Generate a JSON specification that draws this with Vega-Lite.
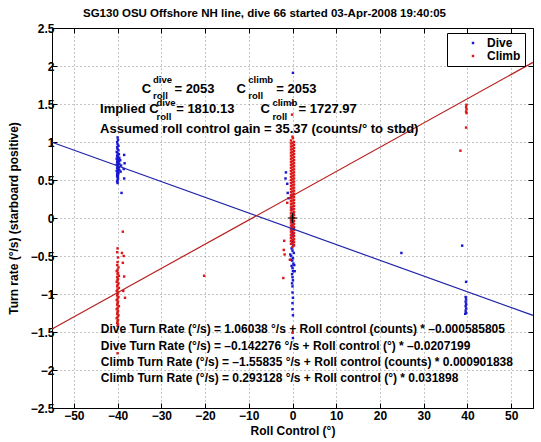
{
  "$schema": "https://vega.github.io/schema/vega-lite/v6.json",
  "autosize": {"type": "none"},
  "padding": {"left": 52, "top": 28, "right": 8, "bottom": 34},
  "width": 481,
  "height": 380,
  "background": "white",
  "title": {
    "text": "SG130 OSU Offshore NH line, dive 66 started 03-Apr-2008 19:40:05",
    "anchor": "middle", "frame": "group", "dx": -28, "offset": 3, "font": "Liberation Sans",
    "fontSize": 11.5, "fontWeight": "bold", "color": "black"
  },
  "datasets": {
    "pts": [
      {"s":"Dive","x":-40,"y":1.06},{"s":"Dive","x":-39.9,"y":1.03},{"s":"Dive","x":-40.1,"y":1.0},{"s":"Dive","x":-40,"y":0.97},{"s":"Dive","x":-39.8,"y":0.95},{"s":"Dive","x":-40.1,"y":0.93},{"s":"Dive","x":-40,"y":0.91},{"s":"Dive","x":-39.8,"y":0.89},{"s":"Dive","x":-40.2,"y":0.87},{"s":"Dive","x":-40,"y":0.85},{"s":"Dive","x":-39.7,"y":0.84},{"s":"Dive","x":-40.1,"y":0.82},{"s":"Dive","x":-39.9,"y":0.81},{"s":"Dive","x":-40,"y":0.8},{"s":"Dive","x":-39.6,"y":0.79},{"s":"Dive","x":-40.2,"y":0.78},{"s":"Dive","x":-39.9,"y":0.77},{"s":"Dive","x":-40,"y":0.76},{"s":"Dive","x":-39.7,"y":0.75},{"s":"Dive","x":-40.1,"y":0.74},{"s":"Dive","x":-39.8,"y":0.73},{"s":"Dive","x":-40,"y":0.72},{"s":"Dive","x":-39.6,"y":0.71},{"s":"Dive","x":-40.2,"y":0.7},{"s":"Dive","x":-39.9,"y":0.69},{"s":"Dive","x":-40,"y":0.68},{"s":"Dive","x":-39.7,"y":0.67},{"s":"Dive","x":-40.1,"y":0.66},{"s":"Dive","x":-39.8,"y":0.65},{"s":"Dive","x":-40,"y":0.64},{"s":"Dive","x":-39.6,"y":0.63},{"s":"Dive","x":-40.2,"y":0.62},{"s":"Dive","x":-39.9,"y":0.61},{"s":"Dive","x":-40,"y":0.6},{"s":"Dive","x":-39.8,"y":0.59},{"s":"Dive","x":-40.1,"y":0.58},{"s":"Dive","x":-40,"y":0.57},{"s":"Dive","x":-39.9,"y":0.56},{"s":"Dive","x":-40.1,"y":0.55},{"s":"Dive","x":-40,"y":0.54},{"s":"Dive","x":-39.9,"y":0.52},{"s":"Dive","x":-40,"y":0.5},{"s":"Dive","x":-40.1,"y":0.48},{"s":"Dive","x":-40,"y":0.46},
      {"s":"Dive","x":-39.1,"y":0.33},{"s":"Dive","x":-38.5,"y":0.83},{"s":"Dive","x":-38.4,"y":0.72},{"s":"Dive","x":-38.6,"y":0.645},{"s":"Dive","x":-38.5,"y":0.52},{"s":"Dive","x":-39.2,"y":0.69},{"s":"Dive","x":-39.3,"y":0.61},{"s":"Dive","x":-39.4,"y":0.76},
      {"s":"Dive","x":0.1,"y":1.91},{"s":"Dive","x":-1.5,"y":0.6},{"s":"Dive","x":-1.6,"y":0.52},{"s":"Dive","x":-1.1,"y":0.33},{"s":"Dive","x":-0.9,"y":0.26},{"s":"Dive","x":-1.2,"y":0.45},{"s":"Dive","x":-0.2,"y":0.12},{"s":"Dive","x":0.2,"y":0.06},{"s":"Dive","x":0,"y":0.02},{"s":"Dive","x":-0.3,"y":-0.03},{"s":"Dive","x":0.1,"y":-0.06},{"s":"Dive","x":-0.1,"y":-0.1},{"s":"Dive","x":0.3,"y":-0.13},{"s":"Dive","x":-0.2,"y":-0.16},{"s":"Dive","x":0,"y":-0.2},{"s":"Dive","x":0.2,"y":-0.23},{"s":"Dive","x":-0.3,"y":-0.26},{"s":"Dive","x":0.1,"y":-0.3},{"s":"Dive","x":-0.1,"y":-0.33},{"s":"Dive","x":0.2,"y":-0.36},{"s":"Dive","x":-0.2,"y":-0.4},{"s":"Dive","x":0,"y":-0.43},{"s":"Dive","x":0.3,"y":-0.46},{"s":"Dive","x":-0.3,"y":-0.5},{"s":"Dive","x":0.1,"y":-0.53},{"s":"Dive","x":-0.1,"y":-0.56},{"s":"Dive","x":0.2,"y":-0.6},{"s":"Dive","x":-0.2,"y":-0.63},{"s":"Dive","x":0,"y":-0.66},{"s":"Dive","x":0.1,"y":-0.7},{"s":"Dive","x":-0.1,"y":-0.74},{"s":"Dive","x":0,"y":-0.78},{"s":"Dive","x":0.1,"y":-0.82},{"s":"Dive","x":-0.1,"y":-0.86},{"s":"Dive","x":0,"y":-0.9},{"s":"Dive","x":0,"y":-0.98},{"s":"Dive","x":0.1,"y":-1.05},{"s":"Dive","x":0,"y":-1.12},{"s":"Dive","x":0,"y":-1.2},{"s":"Dive","x":0.1,"y":-1.28},{"s":"Dive","x":0.1,"y":-1.58},{"s":"Dive","x":-0.4,"y":-0.55},{"s":"Dive","x":0.4,"y":-0.62},{"s":"Dive","x":-0.5,"y":-0.48},{"s":"Dive","x":0.5,"y":-0.7},
      {"s":"Dive","x":38.8,"y":-0.364},{"s":"Dive","x":24.9,"y":-0.46},{"s":"Dive","x":39.7,"y":-0.84},{"s":"Dive","x":39.6,"y":-1.04},{"s":"Dive","x":39.7,"y":-1.07},{"s":"Dive","x":39.6,"y":-1.1},{"s":"Dive","x":39.7,"y":-1.13},{"s":"Dive","x":39.6,"y":-1.16},{"s":"Dive","x":39.7,"y":-1.19},{"s":"Dive","x":39.6,"y":-1.22},{"s":"Dive","x":39.7,"y":-1.25},{"s":"Dive","x":39.5,"y":-1.26},
      {"s":"Climb","x":-40,"y":-0.4},{"s":"Climb","x":-40.1,"y":-0.45},{"s":"Climb","x":-39.9,"y":-0.52},{"s":"Climb","x":-40,"y":-0.58},{"s":"Climb","x":-40.1,"y":-0.62},{"s":"Climb","x":-39.8,"y":-0.65},{"s":"Climb","x":-40,"y":-0.68},{"s":"Climb","x":-40.2,"y":-0.7},{"s":"Climb","x":-39.9,"y":-0.72},{"s":"Climb","x":-40,"y":-0.74},{"s":"Climb","x":-39.7,"y":-0.76},{"s":"Climb","x":-40.1,"y":-0.78},{"s":"Climb","x":-39.9,"y":-0.8},{"s":"Climb","x":-40,"y":-0.82},{"s":"Climb","x":-40.2,"y":-0.84},{"s":"Climb","x":-39.8,"y":-0.86},{"s":"Climb","x":-40,"y":-0.88},{"s":"Climb","x":-40.1,"y":-0.9},{"s":"Climb","x":-39.7,"y":-0.92},{"s":"Climb","x":-40,"y":-0.94},{"s":"Climb","x":-40.2,"y":-0.96},{"s":"Climb","x":-39.9,"y":-0.98},{"s":"Climb","x":-40,"y":-1.0},{"s":"Climb","x":-40.1,"y":-1.02},{"s":"Climb","x":-39.8,"y":-1.04},{"s":"Climb","x":-40,"y":-1.06},{"s":"Climb","x":-40.2,"y":-1.08},{"s":"Climb","x":-39.9,"y":-1.1},{"s":"Climb","x":-40,"y":-1.12},{"s":"Climb","x":-40.1,"y":-1.14},{"s":"Climb","x":-39.7,"y":-1.16},{"s":"Climb","x":-40,"y":-1.18},{"s":"Climb","x":-40.2,"y":-1.2},{"s":"Climb","x":-39.9,"y":-1.22},{"s":"Climb","x":-40,"y":-1.24},{"s":"Climb","x":-40.1,"y":-1.26},{"s":"Climb","x":-39.8,"y":-1.28},{"s":"Climb","x":-40,"y":-1.3},{"s":"Climb","x":-40.2,"y":-1.32},{"s":"Climb","x":-39.9,"y":-1.34},{"s":"Climb","x":-40,"y":-1.36},{"s":"Climb","x":-40.1,"y":-1.38},{"s":"Climb","x":-39.9,"y":-1.4},{"s":"Climb","x":-40,"y":-1.42},
      {"s":"Climb","x":-38.8,"y":-0.18},{"s":"Climb","x":-39,"y":-0.46},{"s":"Climb","x":-38.6,"y":-0.5},{"s":"Climb","x":-38.8,"y":-0.59},{"s":"Climb","x":-38.5,"y":-0.77},{"s":"Climb","x":-38.7,"y":-0.96},{"s":"Climb","x":-38.3,"y":-1.05},{"s":"Climb","x":-40,"y":-1.78},{"s":"Climb","x":-20.2,"y":-0.76},
      {"s":"Climb","x":0,"y":1.51},{"s":"Climb","x":-0.1,"y":1.36},{"s":"Climb","x":0,"y":1.07},{"s":"Climb","x":0.1,"y":1.05},
      {"s":"Climb","x":-0.35,"y":1.02},{"s":"Climb","x":0.35,"y":1.0},{"s":"Climb","x":0,"y":0.99},
      {"s":"Climb","x":-0.35,"y":0.98},{"s":"Climb","x":0.35,"y":0.96},{"s":"Climb","x":0,"y":0.95},
      {"s":"Climb","x":-0.35,"y":0.94},{"s":"Climb","x":0.35,"y":0.92},{"s":"Climb","x":0,"y":0.91},
      {"s":"Climb","x":-0.35,"y":0.9},{"s":"Climb","x":0.35,"y":0.88},{"s":"Climb","x":0,"y":0.87},
      {"s":"Climb","x":-0.35,"y":0.86},{"s":"Climb","x":0.35,"y":0.84},{"s":"Climb","x":0,"y":0.83},
      {"s":"Climb","x":-0.35,"y":0.82},{"s":"Climb","x":0.35,"y":0.8},{"s":"Climb","x":0,"y":0.79},
      {"s":"Climb","x":-0.35,"y":0.78},{"s":"Climb","x":0.35,"y":0.76},{"s":"Climb","x":0,"y":0.75},
      {"s":"Climb","x":-0.35,"y":0.74},{"s":"Climb","x":0.35,"y":0.72},{"s":"Climb","x":0,"y":0.71},
      {"s":"Climb","x":-0.35,"y":0.7},{"s":"Climb","x":0.35,"y":0.68},{"s":"Climb","x":0,"y":0.67},
      {"s":"Climb","x":-0.35,"y":0.66},{"s":"Climb","x":0.35,"y":0.64},{"s":"Climb","x":0,"y":0.63},
      {"s":"Climb","x":-0.35,"y":0.62},{"s":"Climb","x":0.35,"y":0.6},{"s":"Climb","x":0,"y":0.59},
      {"s":"Climb","x":-0.35,"y":0.58},{"s":"Climb","x":0.35,"y":0.56},{"s":"Climb","x":0,"y":0.55},
      {"s":"Climb","x":-0.35,"y":0.54},{"s":"Climb","x":0.35,"y":0.52},{"s":"Climb","x":0,"y":0.51},
      {"s":"Climb","x":-0.35,"y":0.5},{"s":"Climb","x":0.35,"y":0.48},{"s":"Climb","x":0,"y":0.47},
      {"s":"Climb","x":-0.35,"y":0.46},{"s":"Climb","x":0.35,"y":0.44},{"s":"Climb","x":0,"y":0.43},
      {"s":"Climb","x":-0.35,"y":0.42},{"s":"Climb","x":0.35,"y":0.4},{"s":"Climb","x":0,"y":0.39},
      {"s":"Climb","x":-0.35,"y":0.38},{"s":"Climb","x":0.35,"y":0.36},{"s":"Climb","x":0,"y":0.35},
      {"s":"Climb","x":-0.35,"y":0.34},{"s":"Climb","x":0.35,"y":0.32},{"s":"Climb","x":0,"y":0.31},
      {"s":"Climb","x":-0.35,"y":0.3},{"s":"Climb","x":0.35,"y":0.28},{"s":"Climb","x":0,"y":0.27},
      {"s":"Climb","x":-0.35,"y":0.26},{"s":"Climb","x":0.35,"y":0.24},{"s":"Climb","x":0,"y":0.23},
      {"s":"Climb","x":-0.35,"y":0.22},{"s":"Climb","x":0.35,"y":0.2},{"s":"Climb","x":0,"y":0.19},
      {"s":"Climb","x":-0.35,"y":0.18},{"s":"Climb","x":0.35,"y":0.16},{"s":"Climb","x":0,"y":0.15},
      {"s":"Climb","x":-0.35,"y":0.14},{"s":"Climb","x":0.35,"y":0.12},{"s":"Climb","x":0,"y":0.11},
      {"s":"Climb","x":-0.35,"y":0.1},{"s":"Climb","x":0.35,"y":0.08},{"s":"Climb","x":0,"y":0.07},
      {"s":"Climb","x":-0.35,"y":0.06},{"s":"Climb","x":0.35,"y":0.04},{"s":"Climb","x":0,"y":0.03},
      {"s":"Climb","x":-0.35,"y":0.02},{"s":"Climb","x":0.35,"y":0.0},{"s":"Climb","x":0,"y":-0.01},
      {"s":"Climb","x":-0.35,"y":-0.02},{"s":"Climb","x":0.35,"y":-0.04},{"s":"Climb","x":0,"y":-0.05},
      {"s":"Climb","x":-0.35,"y":-0.06},{"s":"Climb","x":0.35,"y":-0.08},{"s":"Climb","x":0,"y":-0.09},
      {"s":"Climb","x":-0.35,"y":-0.1},{"s":"Climb","x":0.35,"y":-0.12},{"s":"Climb","x":0,"y":-0.13},
      {"s":"Climb","x":-0.35,"y":-0.14},{"s":"Climb","x":0.35,"y":-0.16},{"s":"Climb","x":0,"y":-0.17},
      {"s":"Climb","x":-0.35,"y":-0.18},{"s":"Climb","x":0.35,"y":-0.2},{"s":"Climb","x":0,"y":-0.21},
      {"s":"Climb","x":-0.35,"y":-0.22},{"s":"Climb","x":0.35,"y":-0.24},{"s":"Climb","x":0,"y":-0.25},
      {"s":"Climb","x":-0.35,"y":-0.26},{"s":"Climb","x":0.35,"y":-0.28},{"s":"Climb","x":0,"y":-0.29},
      {"s":"Climb","x":-0.35,"y":-0.3},{"s":"Climb","x":0.35,"y":-0.32},{"s":"Climb","x":0,"y":-0.33},
      {"s":"Climb","x":-0.35,"y":-0.34},{"s":"Climb","x":0.35,"y":-0.36},{"s":"Climb","x":0,"y":-0.38},
      {"s":"Climb","x":-2,"y":-0.42},{"s":"Climb","x":-1.8,"y":-0.48},{"s":"Climb","x":-2.1,"y":-0.79},{"s":"Climb","x":-1.9,"y":-0.3},{"s":"Climb","x":0,"y":-1.51},{"s":"Climb","x":-0.6,"y":-0.55},{"s":"Climb","x":-1.2,"y":0.2},
      {"s":"Climb","x":39.8,"y":1.49},{"s":"Climb","x":39.7,"y":1.46},{"s":"Climb","x":39.8,"y":1.43},{"s":"Climb","x":39.7,"y":1.4},{"s":"Climb","x":39.8,"y":1.38},{"s":"Climb","x":39.7,"y":1.19},{"s":"Climb","x":38.4,"y":0.886}
    ],
    "fits": [
      {"s":"Dive","x":-55,"y":0.99732},{"s":"Dive","x":55,"y":-1.28187},
      {"s":"Climb","x":-55,"y":-1.46126},{"s":"Climb","x":55,"y":2.04752}
    ],
    "one": [{}]
  },
  "config": {
    "font": "Liberation Sans",
    "view": {"stroke": null},
    "axis": {
      "domainColor": "black", "domainWidth": 1, "tickColor": "black", "tickSize": -5,
      "labelFont": "Liberation Sans", "labelFontSize": 12, "labelFontWeight": "bold", "labelColor": "black",
      "titleFont": "Liberation Sans", "titleFontSize": 12, "titleFontWeight": "bold", "titleColor": "black",
      "gridColor": "#8a8a8a", "gridDash": [1, 3], "gridWidth": 1, "gridOpacity": 1
    },
    "text": {"font": "Liberation Sans", "fontWeight": "bold", "align": "left", "baseline": "middle", "color": "black"}
  },
  "layer": [
    {
      "data": {"name": "pts"},
      "mark": {"type": "point", "shape": "square", "filled": true, "size": 6, "opacity": 1},
      "encoding": {
        "x": {"field": "x", "type": "quantitative",
          "scale": {"domain": [-55, 55], "nice": false, "zero": false},
          "axis": {"orient": "bottom", "values": [-50,-40,-30,-20,-10,0,10,20,30,40,50], "grid": true,
            "title": "Roll Control (°)", "labelPadding": 7, "titlePadding": 4}},
        "y": {"field": "y", "type": "quantitative",
          "scale": {"domain": [-2.5, 2.5], "nice": false, "zero": false},
          "axis": {"orient": "left", "values": [-2.5,-2,-1.5,-1,-0.5,0,0.5,1,1.5,2,2.5], "format": ".1~f", "grid": true,
            "title": "Turn rate (°/s) (starboard positive)", "labelPadding": 3, "titlePadding": 10}},
        "color": {"field": "s", "type": "nominal",
          "scale": {"domain": ["Dive", "Climb"], "range": ["#1818d0", "#dc1818"]},
          "legend": {"orient": "none", "legendX": 395, "legendY": 5, "title": null,
            "strokeColor": "black", "fillColor": "white", "padding": 4,
            "symbolType": "square", "symbolSize": 6, "symbolOffset": 16, "labelOffset": 8,
            "labelFont": "Liberation Sans", "labelFontSize": 12, "labelFontWeight": "bold", "labelColor": "black",
            "rowPadding": 1}}
      }
    },
    {
      "data": {"name": "fits"},
      "transform": [{"filter": "datum.s === 'Dive'"}],
      "mark": {"type": "line", "color": "#2026a8", "strokeWidth": 1.2},
      "encoding": {
        "x": {"field": "x", "type": "quantitative", "axis": null},
        "y": {"field": "y", "type": "quantitative", "axis": null}
      }
    },
    {
      "data": {"name": "fits"},
      "transform": [{"filter": "datum.s === 'Climb'"}],
      "mark": {"type": "line", "color": "#b82020", "strokeWidth": 1.2},
      "encoding": {
        "x": {"field": "x", "type": "quantitative", "axis": null},
        "y": {"field": "y", "type": "quantitative", "axis": null}
      }
    },
    {
      "data": {"name": "one"},
      "mark": {"type": "point", "shape": "M-1,0L1,0M0,-1L0,1", "filled": false, "size": 90, "stroke": "black", "strokeWidth": 1.2, "opacity": 1},
      "encoding": {
        "x": {"datum": 0, "type": "quantitative",
          "axis": {"orient": "top", "values": [-50,-40,-30,-20,-10,0,10,20,30,40,50], "labels": false, "grid": false, "title": null}},
        "y": {"datum": 0, "type": "quantitative",
          "axis": {"orient": "right", "values": [-2.5,-2,-1.5,-1,-0.5,0,0.5,1,1.5,2,2.5], "labels": false, "grid": false, "title": null}}
      }
    },
    {"data": {"name": "one"}, "mark": {"type": "text", "text": "C", "fontSize": 13},
      "encoding": {"x": {"datum": -34.5, "type": "quantitative", "axis": null}, "y": {"datum": 1.70, "type": "quantitative", "axis": null}}},
    {"data": {"name": "one"}, "mark": {"type": "text", "text": "dive", "fontSize": 9.5},
      "encoding": {"x": {"datum": -31.9, "type": "quantitative", "axis": null}, "y": {"datum": 1.815, "type": "quantitative", "axis": null}}},
    {"data": {"name": "one"}, "mark": {"type": "text", "text": "roll", "fontSize": 9.5},
      "encoding": {"x": {"datum": -31.9, "type": "quantitative", "axis": null}, "y": {"datum": 1.60, "type": "quantitative", "axis": null}}},
    {"data": {"name": "one"}, "mark": {"type": "text", "text": "= 2053", "fontSize": 13},
      "encoding": {"x": {"datum": -27.0, "type": "quantitative", "axis": null}, "y": {"datum": 1.70, "type": "quantitative", "axis": null}}},
    {"data": {"name": "one"}, "mark": {"type": "text", "text": "C", "fontSize": 13},
      "encoding": {"x": {"datum": -12.8, "type": "quantitative", "axis": null}, "y": {"datum": 1.70, "type": "quantitative", "axis": null}}},
    {"data": {"name": "one"}, "mark": {"type": "text", "text": "climb", "fontSize": 9.5},
      "encoding": {"x": {"datum": -10.1, "type": "quantitative", "axis": null}, "y": {"datum": 1.815, "type": "quantitative", "axis": null}}},
    {"data": {"name": "one"}, "mark": {"type": "text", "text": "roll", "fontSize": 9.5},
      "encoding": {"x": {"datum": -10.1, "type": "quantitative", "axis": null}, "y": {"datum": 1.60, "type": "quantitative", "axis": null}}},
    {"data": {"name": "one"}, "mark": {"type": "text", "text": "= 2053", "fontSize": 13},
      "encoding": {"x": {"datum": -3.7, "type": "quantitative", "axis": null}, "y": {"datum": 1.70, "type": "quantitative", "axis": null}}},
    {"data": {"name": "one"}, "mark": {"type": "text", "text": "Implied C", "fontSize": 13},
      "encoding": {"x": {"datum": -44.0, "type": "quantitative", "axis": null}, "y": {"datum": 1.43, "type": "quantitative", "axis": null}}},
    {"data": {"name": "one"}, "mark": {"type": "text", "text": "dive", "fontSize": 9.5},
      "encoding": {"x": {"datum": -31.1, "type": "quantitative", "axis": null}, "y": {"datum": 1.51, "type": "quantitative", "axis": null}}},
    {"data": {"name": "one"}, "mark": {"type": "text", "text": "roll", "fontSize": 9.5},
      "encoding": {"x": {"datum": -31.1, "type": "quantitative", "axis": null}, "y": {"datum": 1.325, "type": "quantitative", "axis": null}}},
    {"data": {"name": "one"}, "mark": {"type": "text", "text": "= 1810.13", "fontSize": 13},
      "encoding": {"x": {"datum": -26.6, "type": "quantitative", "axis": null}, "y": {"datum": 1.43, "type": "quantitative", "axis": null}}},
    {"data": {"name": "one"}, "mark": {"type": "text", "text": "C", "fontSize": 13},
      "encoding": {"x": {"datum": -7.3, "type": "quantitative", "axis": null}, "y": {"datum": 1.43, "type": "quantitative", "axis": null}}},
    {"data": {"name": "one"}, "mark": {"type": "text", "text": "climb", "fontSize": 9.5},
      "encoding": {"x": {"datum": -4.6, "type": "quantitative", "axis": null}, "y": {"datum": 1.51, "type": "quantitative", "axis": null}}},
    {"data": {"name": "one"}, "mark": {"type": "text", "text": "roll", "fontSize": 9.5},
      "encoding": {"x": {"datum": -4.6, "type": "quantitative", "axis": null}, "y": {"datum": 1.325, "type": "quantitative", "axis": null}}},
    {"data": {"name": "one"}, "mark": {"type": "text", "text": "= 1727.97", "fontSize": 13},
      "encoding": {"x": {"datum": 1.4, "type": "quantitative", "axis": null}, "y": {"datum": 1.43, "type": "quantitative", "axis": null}}},
    {"data": {"name": "one"}, "mark": {"type": "text", "text": "Assumed roll control gain = 35.37 (counts/° to stbd)", "fontSize": 13},
      "encoding": {"x": {"datum": -44.0, "type": "quantitative", "axis": null}, "y": {"datum": 1.17, "type": "quantitative", "axis": null}}},
    {"data": {"name": "one"},
      "mark": {"type": "text", "text": [
          "Dive Turn Rate (°/s) = 1.06038 °/s + Roll control (counts) * –0.000585805",
          "Dive Turn Rate (°/s) = –0.142276 °/s + Roll control (°) * –0.0207199",
          "Climb Turn Rate (°/s) = –1.55835 °/s + Roll control (counts) * 0.000901838",
          "Climb Turn Rate (°/s) = 0.293128 °/s + Roll control (°) * 0.031898"],
        "lineHeight": 16.3, "fontSize": 12},
      "encoding": {"x": {"datum": -43.85, "type": "quantitative", "axis": null}, "y": {"datum": -1.465, "type": "quantitative", "axis": null}}}
  ]
}
